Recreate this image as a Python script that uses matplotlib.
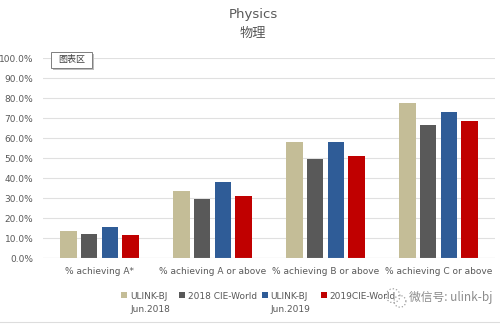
import matplotlib
matplotlib.use("Agg")
import matplotlib.pyplot as plt
from matplotlib.patches import Rectangle
from matplotlib.lines import Line2D
import numpy as np

plt.rcParams['font.family'] = ['DejaVu Sans', 'Noto Sans CJK SC']

categories = ["% achieving A*", "% achieving A or above", "% achieving B or above", "% achieving C or above"]
series_names = ["ULINK-BJ\nJun.2018", "2018 CIE-World", "ULINK-BJ\nJun.2019", "2019CIE-World"]
ulink_2018 = [13.8, 33.8, 58.0, 77.8]
cie_2018 = [12.1, 29.6, 49.6, 66.5]
ulink_2019 = [15.8, 38.0, 58.0, 73.0]
cie_2019 = [11.7, 31.3, 51.3, 68.8]
colors = ["#C4BD97", "#595959", "#2F5C97", "#C00000"]
yticks = [0, 10, 20, 30, 40, 50, 60, 70, 80, 90, 100]

fig = plt.figure(figsize=(5, 3.33), dpi=100)
ax = fig.add_axes([0.086, 0.2243, 0.904, 0.601])

series = [ulink_2018, cie_2018, ulink_2019, cie_2019]
x = np.arange(len(categories))
pitch = 0.182
width = 0.145
for i, (vals, c) in enumerate(zip(series, colors)):
    ax.bar(x + (i - 1.5) * pitch, vals, width=width, color=c, zorder=3)

ax.set_ylim(0, 100)
ax.set_xlim(-0.5, 3.5)
ax.set_yticks(yticks)
ax.set_yticklabels([f"{v:.1f}%" for v in yticks], fontsize=6.5, color="#595959")
ax.set_xticks(x)
ax.set_xticklabels(categories, fontsize=6.5, color="#595959")
ax.tick_params(axis='y', length=0, pad=7)
ax.tick_params(axis='x', length=0, pad=6)
ax.grid(axis='y', color="#E0E0E0", linewidth=0.8, zorder=0)
for s in ax.spines.values():
    s.set_visible(False)
ax.axhline(0, color="#C8C8C8", linewidth=0.8, zorder=4)

# Title
fig.text(0.506, 0.955, "Physics", ha='center', va='center', fontsize=9.5, color="#595959")
fig.text(0.506, 0.898, "物理", ha='center', va='center', fontsize=9.5, color="#595959",
         family=['Noto Sans CJK SC', 'DejaVu Sans'])

# Tooltip box "图表区"
fig.patches.append(Rectangle((0.106, 0.79), 0.082, 0.048, transform=fig.transFigure,
                             facecolor="#BDBDBD", edgecolor="none", zorder=9))
fig.patches.append(Rectangle((0.102, 0.797), 0.082, 0.048, transform=fig.transFigure,
                             facecolor="white", edgecolor="#7F7F7F", linewidth=0.7, zorder=10))
fig.text(0.143, 0.821, "图表区", ha='center', va='center', fontsize=6.5, color="#404040",
         family=['Noto Sans CJK SC', 'DejaVu Sans'], zorder=11)

# Legend (manual)
leg_x = [0.242, 0.358, 0.523, 0.641]
leg_y = 0.118
for lx, name, c in zip(leg_x, series_names, colors):
    fig.patches.append(Rectangle((lx, leg_y - 0.012), 0.012, 0.018, transform=fig.transFigure,
                                 facecolor=c, edgecolor="none"))
    fig.text(lx + 0.018, leg_y + 0.004, name, ha='left', va='top', fontsize=6.5, color="#595959",
             linespacing=1.5)

# Watermark
fig.text(0.818, 0.108, "微信号: ulink-bj", ha='left', va='center', fontsize=8.5, color="#8C8C8C",
         family=['Noto Sans CJK SC', 'DejaVu Sans'], zorder=12,
         bbox=dict(facecolor='white', edgecolor='none', pad=1.0))
theta = np.linspace(0, 2 * np.pi, 14)
fig.add_artist(Line2D(0.786 + 0.014 * np.cos(theta), 0.112 + 0.021 * np.sin(theta),
                      transform=fig.transFigure, linestyle=':', color="#A0A0A0", linewidth=0.9))
fig.add_artist(Line2D(0.800 + 0.012 * np.cos(theta), 0.095 + 0.018 * np.sin(theta),
                      transform=fig.transFigure, linestyle=':', color="#A0A0A0", linewidth=0.9))

# Bottom separator line
fig.add_artist(Line2D([0, 1], [0.033, 0.033], transform=fig.transFigure, color="#DDDDDD", linewidth=0.8))

fig.savefig("out.png", dpi=100, facecolor="white")
